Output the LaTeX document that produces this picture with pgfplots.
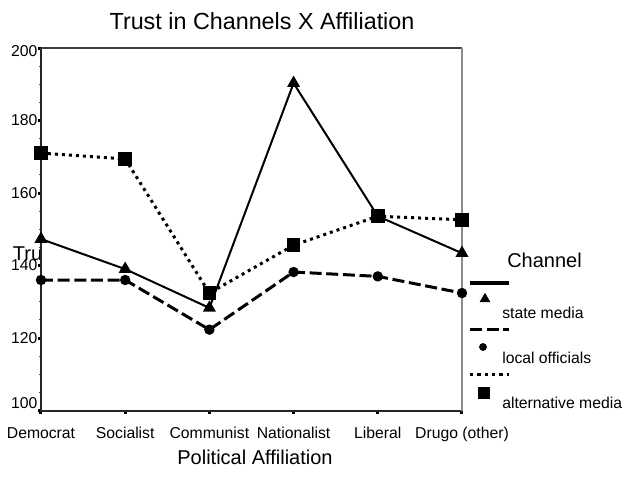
\documentclass[border=0pt]{standalone}
\usepackage{pgfplots}
\pgfplotsset{compat=1.18}
\usepackage{fontspec}
\setmainfont{Liberation Sans}
\begin{document}
\begin{tikzpicture}
\begin{scope}[x=0.75pt,y=-0.75pt,shift={(-30.75pt,307.875pt)}]
\useasboundingbox (0,0) rectangle (626,494);
\node[anchor=base west, inner sep=0pt, font=\fontsize{15}{18}\selectfont] at (12.7,260.7) {Trust};
\end{scope}
\begin{axis}[at={(0,0)}, anchor=south west, scale only axis,
  width=315.75pt, height=271.875pt,
  xmin=0, xmax=5, ymin=100, ymax=200,
  xtick={0,...,5},
  xticklabels={Democrat,Socialist,Communist,Nationalist,Liberal,Drugo (other)},
  ytick={100,120,...,200}, yticklabels={,120,140,160,180,},
  minor y tick num=3,
  xtick pos=left, ytick pos=left,
  tick align=outside, major tick length=2.5pt, minor tick length=1.5pt,
  every major tick/.style={line width=2.25pt, black},
  every minor tick/.style={line width=0.6pt, black!70},
  axis line style={draw=none},
  axis background/.style={fill=white},
  tick label style={font=\fontsize{11.8}{14}\selectfont},
  /pgf/number format/assume math mode=true,
  xticklabel style={yshift=-6pt, text height=8.6pt, text depth=2.5pt},
  yticklabel style={inner sep=0pt},
  clip=false,
]
\draw[black!85, line width=1.5pt] (rel axis cs:0,1) -- (rel axis cs:0,0) -- (rel axis cs:1,0);
\draw[black!75, line width=1pt] (rel axis cs:0,1) -- (rel axis cs:1,1);
\draw[black!45, line width=1.2pt] (rel axis cs:1,0) -- (rel axis cs:1,1);
\addplot[black, line width=1.5pt, mark=triangle*, mark size=4.2pt]
  coordinates {(0,147.3)(1,139)(2,128.3)(3,190.3)(4,153.6)(5,143.4)};
\addplot[black, line width=2.25pt, dash pattern=on 9pt off 3.5pt, mark=*, mark size=2.7pt, mark options={solid}]
  coordinates {(0,136)(1,136)(2,122.3)(3,138.2)(4,137)(5,132.4)};
\addplot[black, line width=2.25pt, dash pattern=on 2.25pt off 3pt, mark=square*, mark size=4pt, mark options={solid}]
  coordinates {(0,171)(1,169.4)(2,132.4)(3,145.6)(4,153.6)(5,152.6)};
\end{axis}
\begin{scope}[x=0.75pt,y=-0.75pt,shift={(-30.75pt,307.875pt)}]
\node[anchor=base, inner sep=0pt, font=\fontsize{17.5}{20}\selectfont] at (262,29.5) {Trust in Channels X Affiliation};
\node[anchor=base, inner sep=0pt, font=\fontsize{15}{18}\selectfont] at (255,464) {Political Affiliation};
\node[anchor=east, inner sep=0pt, font=\fontsize{11.8}{14}\selectfont] at (37.7,51) {200};
\node[anchor=east, inner sep=0pt, font=\fontsize{11.8}{14}\selectfont] at (37.7,403) {100};
% legend
\node[anchor=base west, inner sep=0pt, font=\fontsize{15}{18}\selectfont] at (507,267) {Channel};
\draw[line width=2.5pt] (470,283) -- (509,283);
\draw[line width=2.25pt, dash pattern=on 9pt off 3.5pt] (470,329) -- (509,329);
\draw[line width=2.25pt, dash pattern=on 2.5pt off 3pt] (470,374) -- (509,374);
\begin{scope}[shift={(485,299)}]\pgfsetplotmarksize{4.2pt}\pgfuseplotmark{triangle*}\end{scope}
\begin{scope}[shift={(483,347)}]\pgfsetplotmarksize{2.7pt}\pgfuseplotmark{*}\end{scope}
\begin{scope}[shift={(484,393)}]\pgfsetplotmarksize{4pt}\pgfuseplotmark{square*}\end{scope}
\node[anchor=base west, inner sep=0pt, font=\fontsize{11.8}{14}\selectfont] at (502,318.3) {state media};
\node[anchor=base west, inner sep=0pt, font=\fontsize{11.8}{14}\selectfont] at (502,363.5) {local officials};
\node[anchor=base west, inner sep=0pt, font=\fontsize{11.8}{14}\selectfont] at (502,408) {alternative media};
\end{scope}
\end{tikzpicture}
\end{document}
